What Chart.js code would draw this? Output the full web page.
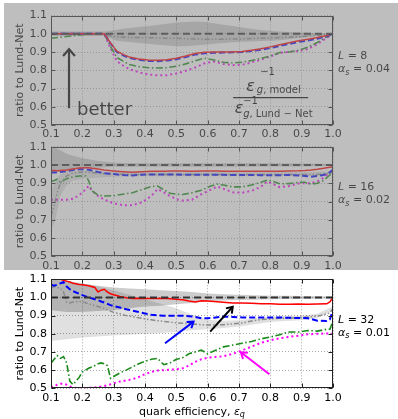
<!DOCTYPE html>
<html><head><meta charset="utf-8">
<script src="https://cdn.jsdelivr.net/npm/chart.js@4/dist/chart.umd.min.js"></script>
<style>
html,body{margin:0;padding:0;background:#fff;}
#wrap{position:relative;width:398px;height:419px;overflow:hidden;}
canvas{position:absolute;left:0;}
#shade{position:absolute;left:4px;top:3px;width:394px;height:267px;background:rgba(132,132,132,0.53);pointer-events:none;}
</style></head><body>
<div id="wrap">
<canvas id="c1" width="398" height="140" style="top:0px"></canvas>
<canvas id="c2" width="398" height="140" style="top:131px"></canvas>
<canvas id="c3" width="398" height="155" style="top:264px"></canvas>
<div id="shade"></div>
</div>
<script>
// ---------- axes ----------
const xTicks = [0.1,0.2,0.3,0.4,0.5,0.6,0.7,0.8,0.9,1.0];
const xTickLabels = ['0.1','0.2','0.3','0.4','0.5','0.6','0.7','0.8','0.9','1.0'];
const yTicks = [0.5,0.6,0.7,0.8,0.9,1.0,1.1];
const yTickLabels = ['0.5','0.6','0.7','0.8','0.9','1.0','1.1'];

// Lund-Net reference (ratio = 1)
const refX = [0.1, 1.0];
const refY = [1.0, 1.0];

// ---------- panel 1 : L = 8, alpha_s = 0.04 ----------
const eps1 = [0.10,0.15,0.20,0.25,0.27,0.29,0.31,0.33,0.35,0.38,0.41,0.44,0.47,0.50,0.53,0.56,0.59,0.62,0.65,0.68,0.71,0.74,0.77,0.80,0.83,0.86,0.89,0.92,0.95,0.98,1.00];
const red1 = [1,1,1,1,1,0.95,0.905,0.887,0.872,0.862,0.856,0.855,0.858,0.866,0.878,0.892,0.898,0.9,0.9,0.9,0.903,0.91,0.918,0.928,0.94,0.951,0.962,0.97,0.979,0.99,1.0];
const blue1 = [1,1,1,1,1,0.948,0.9,0.882,0.868,0.857,0.851,0.85,0.853,0.86,0.872,0.886,0.893,0.896,0.897,0.898,0.9,0.905,0.912,0.922,0.933,0.944,0.955,0.963,0.973,0.986,1.0];
const green1 = [0.975,0.985,0.995,1.0,1.0,0.93,0.87,0.85,0.832,0.82,0.814,0.812,0.814,0.822,0.835,0.852,0.866,0.856,0.844,0.84,0.844,0.853,0.865,0.878,0.897,0.9,0.91,0.926,0.952,0.983,1.0];
const magenta1 = [1,1,1,1,1,0.92,0.85,0.826,0.806,0.789,0.777,0.772,0.773,0.782,0.797,0.815,0.838,0.848,0.834,0.828,0.83,0.843,0.858,0.876,0.895,0.901,0.905,0.917,0.943,0.978,1.0];
const gray1 = [1,1,1,1,0.998,0.988,0.984,0.982,0.98,0.979,0.978,0.977,0.976,0.975,0.973,0.971,0.97,0.97,0.97,0.971,0.972,0.974,0.975,0.977,0.979,0.981,0.984,0.987,0.991,0.996,1.0];
const lnUp1 = [1.012,1.012,1.012,1.012,1.012,1.016,1.022,1.027,1.032,1.037,1.042,1.048,1.055,1.061,1.065,1.067,1.064,1.058,1.05,1.042,1.034,1.027,1.021,1.017,1.013,1.01,1.008,1.006,1.004,1.002,1.0];
const lnLo1 = [0.988,0.988,0.988,0.988,0.988,0.975,0.962,0.958,0.955,0.95,0.945,0.94,0.935,0.932,0.932,0.935,0.94,0.945,0.95,0.953,0.956,0.958,0.96,0.962,0.965,0.97,0.975,0.982,0.989,0.996,1.0];

// ---------- panel 2 : L = 16, alpha_s = 0.02 ----------
const eps2 = [0.10,0.11,0.12,0.13,0.15,0.17,0.19,0.21,0.22,0.23,0.25,0.27,0.30,0.33,0.36,0.39,0.42,0.44,0.46,0.48,0.50,0.52,0.55,0.58,0.61,0.63,0.65,0.68,0.71,0.74,0.77,0.79,0.81,0.83,0.86,0.89,0.91,0.93,0.95,0.97,0.99,1.00];
const red2 = [0.97,0.97,0.968,0.97,0.972,0.978,0.983,0.985,0.985,0.982,0.978,0.972,0.967,0.963,0.96,0.963,0.965,0.966,0.966,0.967,0.967,0.967,0.966,0.967,0.967,0.967,0.966,0.966,0.965,0.965,0.965,0.966,0.965,0.965,0.967,0.968,0.97,0.973,0.977,0.982,0.988,0.99];
const blue2 = [0.958,0.96,0.958,0.962,0.966,0.972,0.976,0.976,0.974,0.97,0.962,0.955,0.95,0.945,0.943,0.947,0.948,0.948,0.948,0.948,0.948,0.947,0.946,0.946,0.946,0.946,0.946,0.945,0.945,0.945,0.944,0.944,0.944,0.944,0.945,0.942,0.94,0.936,0.94,0.945,0.96,0.975];
const green2 = [0.91,0.915,0.922,0.905,0.925,0.935,0.94,0.94,0.915,0.86,0.835,0.83,0.832,0.84,0.848,0.865,0.882,0.885,0.865,0.845,0.84,0.838,0.848,0.862,0.885,0.895,0.89,0.88,0.88,0.89,0.905,0.917,0.91,0.897,0.898,0.905,0.905,0.895,0.9,0.915,0.945,0.965];
const magenta2 = [0.81,0.81,0.81,0.81,0.81,0.815,0.835,0.865,0.885,0.86,0.83,0.81,0.79,0.78,0.78,0.795,0.83,0.868,0.85,0.83,0.812,0.805,0.81,0.84,0.865,0.882,0.87,0.85,0.848,0.858,0.88,0.91,0.895,0.878,0.885,0.898,0.9,0.9,0.91,0.93,0.96,0.975];
const gray2 = [0.72,0.78,0.85,0.9,0.94,0.955,0.96,0.962,0.96,0.958,0.955,0.952,0.95,0.949,0.948,0.948,0.948,0.948,0.948,0.948,0.948,0.948,0.948,0.948,0.948,0.948,0.948,0.948,0.948,0.948,0.948,0.948,0.948,0.948,0.948,0.948,0.948,0.948,0.948,0.95,0.955,0.96];
const bandEps2 = [0.10,0.11,0.12,0.13,0.15,0.17,0.20,0.25,0.30,0.40,0.50,0.60,0.70,0.80,0.90,1.00];
const lnUp2 = [1.1,1.095,1.09,1.08,1.062,1.05,1.038,1.022,1.012,1.01,1.01,1.01,1.01,1.009,1.008,1.005];
const lnLo2 = [0.95,0.955,0.96,0.965,0.97,0.975,0.98,0.985,0.99,0.99,0.99,0.99,0.99,0.991,0.992,0.995];
const mdUp2 = [0.86,0.9,0.93,0.95,0.965,0.97,0.97,0.965,0.962,0.96,0.96,0.96,0.96,0.96,0.96,0.965];
const mdLo2 = [0.65,0.68,0.75,0.83,0.89,0.915,0.925,0.93,0.935,0.938,0.938,0.938,0.938,0.938,0.938,0.945];

// ---------- panel 3 : L = 32, alpha_s = 0.01 ----------
const eps3 = [0.10,0.11,0.12,0.13,0.14,0.15,0.16,0.17,0.19,0.20,0.22,0.24,0.25,0.26,0.27,0.28,0.29,0.30,0.32,0.34,0.36,0.38,0.40,0.42,0.44,0.46,0.48,0.50,0.52,0.54,0.56,0.58,0.60,0.62,0.65,0.68,0.71,0.74,0.77,0.80,0.83,0.86,0.89,0.92,0.95,0.98,0.99,1.00];
const red3 = [1.105,1.1,1.1,1.1,1.095,1.09,1.085,1.078,1.072,1.07,1.065,1.055,1.03,1.04,1.045,1.03,1.02,1.015,1.005,0.998,0.995,0.996,0.995,0.995,0.994,0.995,0.993,0.99,0.988,0.98,0.975,0.982,0.98,0.978,0.974,0.97,0.97,0.968,0.966,0.965,0.963,0.963,0.964,0.963,0.964,0.965,0.975,1.0];
const blue3 = [1.07,1.065,1.07,1.078,1.085,1.06,1.045,1.035,1.02,1.013,1.0,0.99,0.985,0.978,0.972,0.965,0.958,0.952,0.945,0.935,0.928,0.92,0.912,0.905,0.902,0.9,0.9,0.9,0.9,0.897,0.893,0.886,0.886,0.888,0.895,0.893,0.89,0.89,0.89,0.89,0.89,0.888,0.887,0.886,0.872,0.87,0.88,0.93];
const green3 = [0.638,0.66,0.68,0.665,0.675,0.64,0.54,0.52,0.56,0.59,0.61,0.625,0.635,0.64,0.635,0.625,0.555,0.565,0.585,0.6,0.618,0.635,0.648,0.66,0.665,0.63,0.64,0.66,0.668,0.69,0.7,0.71,0.69,0.705,0.728,0.738,0.748,0.758,0.772,0.782,0.795,0.81,0.81,0.818,0.815,0.825,0.825,0.87];
const magenta3 = [0.505,0.51,0.52,0.525,0.525,0.52,0.51,0.505,0.5,0.5,0.502,0.505,0.508,0.51,0.513,0.517,0.522,0.528,0.537,0.543,0.55,0.562,0.578,0.59,0.598,0.6,0.602,0.605,0.61,0.625,0.645,0.66,0.668,0.672,0.676,0.69,0.708,0.73,0.75,0.765,0.775,0.783,0.79,0.797,0.8,0.802,0.8,0.8];
const gray3 = [1.05,1.06,1.055,1.05,1.03,0.975,0.97,0.975,0.978,0.977,0.965,0.955,0.95,0.945,0.94,0.932,0.925,0.918,0.91,0.9,0.895,0.888,0.882,0.877,0.872,0.868,0.865,0.86,0.858,0.855,0.853,0.85,0.848,0.849,0.85,0.855,0.86,0.87,0.878,0.882,0.885,0.886,0.89,0.893,0.897,0.91,0.915,0.94];
const bandEps3 = [0.10,0.15,0.20,0.25,0.30,0.35,0.40,0.45,0.50,0.55,0.60,0.65,0.70,0.75,0.80,0.85,0.90,0.95,1.00];
const lnUp3 = [1.1,1.09,1.075,1.065,1.055,1.05,1.045,1.04,1.035,1.03,1.022,1.018,1.015,1.012,1.01,1.009,1.008,1.007,1.005];
const lnLo3 = [0.93,0.92,0.92,0.925,0.93,0.94,0.95,0.955,0.962,0.97,0.978,0.983,0.986,0.988,0.99,0.991,0.992,0.993,0.995];
const mdUp3 = [1.1,1.09,1.08,1.06,1.04,1.015,0.99,0.965,0.94,0.905,0.878,0.872,0.875,0.885,0.895,0.898,0.9,0.91,0.95];
const mdLo3 = [0.76,0.77,0.78,0.785,0.79,0.795,0.8,0.805,0.81,0.82,0.825,0.832,0.84,0.852,0.865,0.87,0.875,0.885,0.93];

// ---------- annotations (data coordinates) ----------
const arrows1 = [{x0:0.1575, y0:0.592, x1:0.1575, y1:0.915, color:'#000', w:2.2, head:9, ang:0.72}];
const arrows3 = [
  {x0:0.464, y0:0.748, x1:0.555, y1:0.867, color:'#0000ff', w:2, head:7, ang:0.6},
  {x0:0.608, y0:0.812, x1:0.680, y1:0.949, color:'#000000', w:2, head:7, ang:0.6},
  {x0:0.797, y0:0.577, x1:0.706, y1:0.698, color:'#ff00ff', w:2, head:7, ang:0.6}
];
const betterPos = {x:0.183, y:0.555};
const fracPos = {x:0.801, y:0.65};

// ---------- drawing ----------
const FAM = "'DejaVu Sans', sans-serif";
Chart.defaults.font.family = FAM;
Chart.defaults.color = '#000';
const pts = (xs, ys) => xs.map((x, i) => ({x: x, y: ys[i]}));

function runs(ctx, x, y, list) {
  let cx = x;
  for (const r of list) {
    ctx.font = r.f;
    ctx.fillText(r.t, cx, y + (r.dy || 0));
    cx += ctx.measureText(r.t).width;
  }
  return cx;
}
function runsWidth(ctx, list) {
  let w = 0;
  for (const r of list) { ctx.font = r.f; w += ctx.measureText(r.t).width; }
  return w;
}
function arrow(ctx, x0, y0, x1, y1, a) {
  ctx.save();
  ctx.strokeStyle = a.color; ctx.lineWidth = a.w; ctx.lineCap = 'butt'; ctx.lineJoin = 'miter';
  ctx.beginPath(); ctx.moveTo(x0, y0); ctx.lineTo(x1, y1); ctx.stroke();
  const th = Math.atan2(y1 - y0, x1 - x0);
  ctx.beginPath();
  ctx.moveTo(x1 - a.head * Math.cos(th - a.ang), y1 - a.head * Math.sin(th - a.ang));
  ctx.lineTo(x1, y1);
  ctx.lineTo(x1 - a.head * Math.cos(th + a.ang), y1 - a.head * Math.sin(th + a.ang));
  ctx.stroke();
  ctx.restore();
}

const panelInfo = {
  c1: {L: '8', as: '0.04', arrows: arrows1, better: true, frac: true},
  c2: {L: '16', as: '0.02', arrows: []},
  c3: {L: '32', as: '0.01', arrows: arrows3, xtitle: true}
};

const deco = {
  id: 'deco',
  afterDraw(chart) {
    const info = panelInfo[chart.canvas.id];
    const ctx = chart.ctx, a = chart.chartArea, xs = chart.scales.x, ys = chart.scales.y;
    ctx.save();
    // frame
    const L = Math.round(a.left) + 0.5, R = Math.round(a.right) - 0.5, T = Math.round(a.top) + 0.5, B = Math.round(a.bottom) - 0.5;
    ctx.strokeStyle = '#222'; ctx.lineWidth = 1;
    ctx.strokeRect(L, T, R - L, B - T);
    // inward ticks on all sides
    ctx.beginPath();
    xTicks.forEach(v => { const px = Math.round(xs.getPixelForValue(v)) + 0.5; ctx.moveTo(px, B); ctx.lineTo(px, B - 4); ctx.moveTo(px, T); ctx.lineTo(px, T + 4); });
    yTicks.forEach(v => { const py = Math.round(ys.getPixelForValue(v)) + 0.5; ctx.moveTo(L, py); ctx.lineTo(L + 4, py); ctx.moveTo(R, py); ctx.lineTo(R - 4, py); });
    ctx.stroke();
    // right labels
    const N = "11px " + FAM, I = "italic 11px " + FAM, S = "italic 8px " + FAM;
    ctx.fillStyle = '#000'; ctx.textBaseline = 'alphabetic'; ctx.textAlign = 'left';
    runs(ctx, a.right + 5, a.top + 43.5, [{t: 'L', f: I}, {t: ' = ' + info.L, f: N}]);
    runs(ctx, a.right + 5, a.top + 56.5, [{t: 'α', f: I}, {t: 's', f: S, dy: 2.5}, {t: ' = ' + info.as, f: N}]);
    // arrows
    info.arrows.forEach(ar => arrow(ctx, xs.getPixelForValue(ar.x0), ys.getPixelForValue(ar.y0), xs.getPixelForValue(ar.x1), ys.getPixelForValue(ar.y1), ar));
    if (info.better) {
      ctx.font = "18px " + FAM; ctx.fillStyle = '#000';
      ctx.fillText('better', xs.getPixelForValue(betterPos.x), ys.getPixelForValue(betterPos.y));
    }
    if (info.frac) {
      const cx = xs.getPixelForValue(fracPos.x), cy = ys.getPixelForValue(fracPos.y);
      const E = "italic 16px " + FAM, SN = "10px " + FAM, SI = "italic 10px " + FAM;
      ctx.fillStyle = '#000';
      runs(ctx, cx - 24.5, cy - 7, [{t: 'ε', f: E}]);
      runs(ctx, cx - 10.5, cy - 22.7, [{t: '−1', f: SN}]);
      runs(ctx, cx - 13.8, cy - 5, [{t: 'g', f: SI}, {t: ', model', f: SN}]);
      ctx.strokeStyle = '#000'; ctx.lineWidth = 1.3;
      ctx.beginPath(); ctx.moveTo(cx - 37.5, cy); ctx.lineTo(cx + 37.5, cy); ctx.stroke();
      runs(ctx, cx - 36, cy + 15.6, [{t: 'ε', f: E}]);
      runs(ctx, cx - 27.5, cy + 6.8, [{t: '−1', f: SN}]);
      runs(ctx, cx - 27.5, cy + 19, [{t: 'g', f: SI}, {t: ', Lund − Net', f: SN}]);
    }
    if (info.xtitle) {
      const list = [{t: 'quark efficiency, ', f: N}, {t: 'ε', f: I}, {t: 'q', f: "italic 8px " + FAM, dy: 2.5}];
      const w = runsWidth(ctx, list);
      ctx.fillStyle = '#000';
      runs(ctx, (a.left + a.right) / 2 - w / 2, a.bottom + 26.5, list);
    }
    ctx.restore();
  }
};

function lineDs(xs, ys, color, width, dash) {
  return {data: pts(xs, ys), borderColor: color, borderWidth: width, borderDash: dash, pointRadius: 0, fill: false, tension: 0, borderCapStyle: 'butt'};
}
function bandDs(xs, ys, color, fillTo) {
  return {data: pts(xs, ys), borderWidth: 0, borderColor: 'rgba(0,0,0,0)', backgroundColor: color, pointRadius: 0, fill: fillTo, tension: 0};
}

function makeChart(id, d, padTop, xh) {
  const ds = [
    lineDs(refX, refY, '#333333', 2, [7, 4]),
    lineDs(d.eps, d.red, '#ff0000', 1.5, []),
    lineDs(d.eps, d.blue, '#0000ff', 2, [6, 3]),
    lineDs(d.eps, d.gray, '#8a8a8a', 1.5, [5, 2, 1.5, 2, 1.5, 2]),
    lineDs(d.eps, d.green, '#1a8a1a', 1.6, [7, 2.5, 1.5, 2.5]),
    lineDs(d.eps, d.magenta, '#ff00ff', 2, [2, 3]),
    bandDs(d.bx, d.lnUp, 'rgba(0,0,0,0.2)', '+1'),
    bandDs(d.bx, d.lnLo, 'rgba(0,0,0,0)', false)
  ];
  if (d.mdUp) {
    ds.push(bandDs(d.bx, d.mdUp, 'rgba(0,0,0,0.12)', '+1'));
    ds.push(bandDs(d.bx, d.mdLo, 'rgba(0,0,0,0)', false));
  }
  return new Chart(document.getElementById(id), {
    type: 'line',
    data: {datasets: ds},
    options: {
      responsive: false, animation: false, events: [],
      layout: {padding: {top: padTop, right: 65, left: 0, bottom: 0}},
      plugins: {legend: {display: false}, tooltip: {enabled: false}},
      scales: {
        x: {
          type: 'linear', min: 0.1, max: 1.0,
          afterBuildTicks: s => { s.ticks = xTicks.map(v => ({value: v})); },
          afterFit: s => { s.height = xh; },
          ticks: {autoSkip: false, maxRotation: 0, padding: 3, font: {size: 11}, color: '#000',
                  callback: (v, i) => xTickLabels[i]},
          grid: {color: '#a8a8a8', lineWidth: 1, drawTicks: false},
          border: {display: false, dash: [1, 2]}
        },
        y: {
          type: 'linear', min: 0.5, max: 1.1,
          afterBuildTicks: s => { s.ticks = yTicks.map(v => ({value: v})); },
          afterFit: s => { s.width = 51; },
          ticks: {padding: 4, font: {size: 11}, color: '#000', callback: (v, i) => yTickLabels[i]},
          grid: {color: '#a8a8a8', lineWidth: 1, drawTicks: false},
          border: {display: false, dash: [1, 2]},
          title: {display: true, text: 'ratio to Lund-Net', font: {size: 11}, color: '#000', padding: {top: 14, bottom: 0}}
        }
      }
    },
    plugins: [deco]
  });
}

makeChart('c1', {eps: eps1, red: red1, blue: blue1, green: green1, magenta: magenta1, gray: gray1, bx: eps1, lnUp: lnUp1, lnLo: lnLo1}, 15.5, 15);
makeChart('c2', {eps: eps2, red: red2, blue: blue2, green: green2, magenta: magenta2, gray: gray2, bx: bandEps2, lnUp: lnUp2, lnLo: lnLo2, mdUp: mdUp2, mdLo: mdLo2}, 15.7, 14.7);
makeChart('c3', {eps: eps3, red: red3, blue: blue3, green: green3, magenta: magenta3, gray: gray3, bx: bandEps3, lnUp: lnUp3, lnLo: lnLo3, mdUp: mdUp3, mdLo: mdLo3}, 15.3, 30.7);
</script>
</body></html>
